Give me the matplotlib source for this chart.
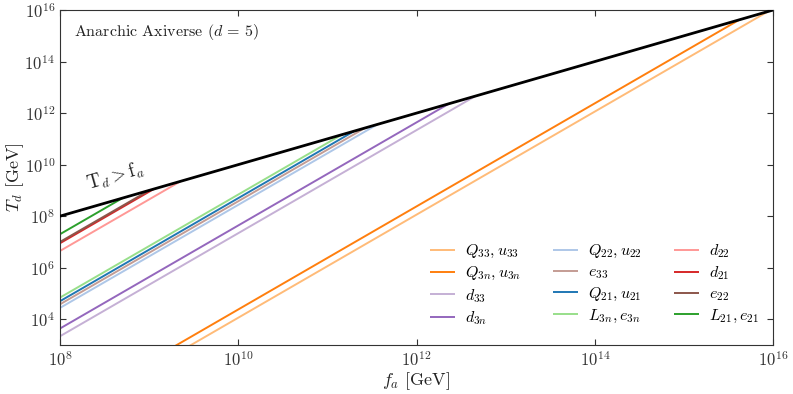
import matplotlib
matplotlib.use("Agg")
import matplotlib.pyplot as plt
import numpy as np

plt.rcParams['font.family'] = 'serif'
plt.rcParams['font.serif'] = ['cmr10', 'DejaVu Serif']
plt.rcParams['mathtext.fontset'] = 'cm'
plt.rcParams['axes.formatter.use_mathtext'] = True
plt.rcParams['axes.unicode_minus'] = False

# Legend labels
labels = [r"$Q_{33}, u_{33}$", r"$Q_{3n}, u_{3n}$", r"$d_{33}$", r"$d_{3n}$",
          r"$Q_{22}, u_{22}$", r"$e_{33}$", r"$Q_{21}, u_{21}$", r"$L_{3n}, e_{3n}$",
          r"$d_{22}$", r"$d_{21}$", r"$e_{22}$", r"$L_{21}, e_{21}$"]
colors = ["#ffbb78", "#ff7f0e", "#c5b0d5", "#9467bd",
          "#aec7e8", "#c49c94", "#1f77b4", "#98df8a",
          "#ff9896", "#d62728", "#8c564b", "#2ca02c"]
# log10 of T_d at f_a = 1e8 GeV (line start)
log_td_start = [0.06, 0.38, 3.34, 3.64,
                4.44, 4.58, 4.70, 4.84,
                6.65, 6.95, 7.00, 7.30]
# log10 of f_a where each line meets T_d = f_a (line end)
log_fa_end = [15.94, 15.62, 12.66, 12.36,
              11.56, 11.42, 11.30, 11.16,
              9.35, 9.05, 9.00, 8.70]
log_fa_start = 8.0

# boundary T_d = f_a
boundary_fa = [1e8, 1e16]
boundary_td = [1e8, 1e16]

fig = plt.figure(figsize=(7.93, 3.94), dpi=100)
ax = fig.add_axes([0.0757, 0.1244, 0.8993, 0.8502])

for lab, c, ts, fe in zip(labels, colors, log_td_start, log_fa_end):
    xs = [10**log_fa_start, 10**fe]
    ys = [10**ts, 10**fe]
    ax.plot(xs, ys, color=c, lw=1.4, label=lab, solid_capstyle='butt')

ax.plot(boundary_fa, boundary_td, color='black', lw=2.0, zorder=5)

ax.set_xscale('log')
ax.set_yscale('log')
ax.set_xlim(1e8, 1e16)
ax.set_ylim(1e3, 1e16)
ax.set_xticks([1e8, 1e10, 1e12, 1e14, 1e16])
ax.set_yticks([1e4, 1e6, 1e8, 1e10, 1e12, 1e14, 1e16])
ax.minorticks_off()
ax.tick_params(which='both', direction='in', top=True, right=True,
               labelsize=12, colors='#333333', length=4)
for s in ax.spines.values():
    s.set_color('#333333')

ax.set_xlabel(r"$f_a$ [GeV]", fontsize=13, color='#222222', labelpad=1)
ax.set_ylabel(r"$T_d$ [GeV]", fontsize=13, color='#222222')
ax.yaxis.set_label_coords(-0.048, 0.5)

ax.text(0.02, 0.965, r"Anarchic Axiverse ($d\,=\,5$)", transform=ax.transAxes,
        fontsize=11.5, va='top', ha='left', color='#222222')
ax.text(2.1e8, 1.0e9, r"$\mathrm{T}_d > \mathrm{f}_a$", fontsize=13.5,
        rotation=16, rotation_mode='anchor', color='#222222')

leg = ax.legend(ncol=3, loc='lower right', frameon=False, fontsize=11.5,
                handlelength=1.6, handletextpad=0.6, columnspacing=2.0,
                labelspacing=0.3, bbox_to_anchor=(1.0, 0.01))

fig.savefig("out.png", dpi=100)
